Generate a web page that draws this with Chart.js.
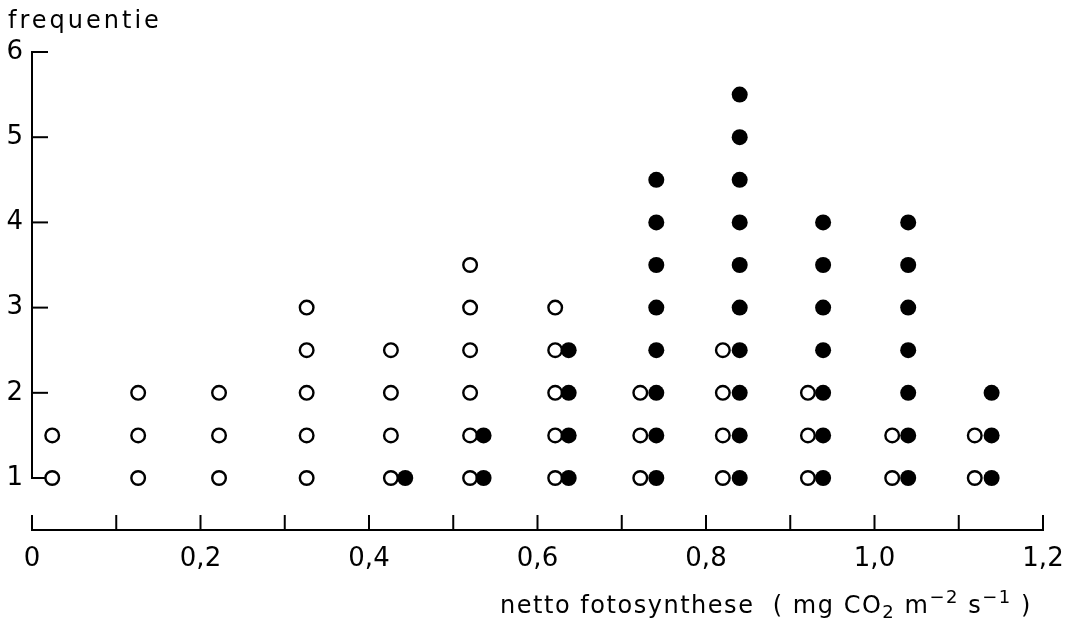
<!DOCTYPE html>
<html>
<head>
<meta charset="utf-8">
<script src="https://cdn.jsdelivr.net/npm/chart.js@4/dist/chart.umd.min.js"></script>
<style>
  body { margin: 0; background: #fff; }
  canvas { display: block; }
</style>
</head>
<body>
<canvas id="chart" width="1067" height="620"></canvas>
<script>
'use strict';

// open circles: one column per class, dots stacked per half unit
const openCols = [0.024, 0.126, 0.222, 0.326, 0.426, 0.52, 0.621, 0.722, 0.82, 0.921, 1.021, 1.119];
const openStacks = [
  [1, 1.5],
  [1, 1.5, 2],
  [1, 1.5, 2],
  [1, 1.5, 2, 2.5, 3],
  [1, 1.5, 2, 2.5],
  [1, 1.5, 2, 2.5, 3, 3.5],
  [1, 1.5, 2, 2.5, 3],
  [1, 1.5, 2],
  [1, 1.5, 2, 2.5],
  [1, 1.5, 2],
  [1, 1.5],
  [1, 1.5],
];

// filled circles
const filledCols = [0.443, 0.536, 0.637, 0.741, 0.84, 0.939, 1.04, 1.139];
const filledStacks = [
  [1],
  [1, 1.5],
  [1, 1.5, 2, 2.5],
  [1, 1.5, 2, 2.5, 3, 3.5, 4, 4.5],
  [1, 1.5, 2, 2.5, 3, 3.5, 4, 4.5, 5, 5.5],
  [1, 1.5, 2, 2.5, 3, 3.5, 4],
  [1, 1.5, 2, 2.5, 3, 3.5, 4],
  [1, 1.5, 2],
];

const xTickValues = [0, 0.2, 0.4, 0.6, 0.8, 1.0, 1.2];
const xTickLabels = ['0', '0,2', '0,4', '0,6', '0,8', '1,0', '1,2'];
const xTickMarks = [0, 0.1, 0.2, 0.3, 0.4, 0.5, 0.6, 0.7, 0.8, 0.9, 1.0, 1.1, 1.2];
const yTickValues = [1, 2, 3, 4, 5, 6];
const yTickLabels = ['1', '2', '3', '4', '5', '6'];

const yTitle = 'frequentie';
// x title pieces: [text, kind] where kind is '', 'sub' or 'sup'
const xTitleParts = [
  ['netto fotosynthese  ( mg CO', ''],
  ['2', 'sub'],
  [' m', ''],
  ['\u22122', 'sup'],
  [' s', ''],
  ['\u22121', 'sup'],
  [' )', ''],
];

const FONT = "'DejaVu Sans', sans-serif";

function toPoints(cols, stacks) {
  const pts = [];
  cols.forEach((x, i) => {
    stacks[i].forEach((y) => pts.push({ x: x, y: y }));
  });
  return pts;
}

function setPartFont(ctx, kind) {
  ctx.font = (kind ? '18px ' : '24px ') + FONT;
}

const axesPlugin = {
  id: 'axesPlugin',
  beforeDatasetsDraw(chart) {
    const ctx = chart.ctx;
    const x = chart.scales.x;
    const y = chart.scales.y;
    const x0 = x.getPixelForValue(0);
    const yBase = chart.chartArea.bottom;

    ctx.save();
    ctx.strokeStyle = '#000';
    ctx.lineWidth = 2;
    ctx.lineCap = 'butt';

    // y axis, from 1 to 6 with ticks to the right
    ctx.beginPath();
    ctx.moveTo(x0, y.getPixelForValue(yTickValues[0]) + 1);
    ctx.lineTo(x0, y.getPixelForValue(yTickValues[yTickValues.length - 1]) - 1);
    ctx.stroke();
    yTickValues.forEach((v) => {
      const py = y.getPixelForValue(v);
      ctx.beginPath();
      ctx.moveTo(x0 - 1, py);
      ctx.lineTo(x0 + 16, py);
      ctx.stroke();
    });

    // x axis, detached, ticks pointing up
    ctx.beginPath();
    ctx.moveTo(x.getPixelForValue(0) - 1, yBase);
    ctx.lineTo(x.getPixelForValue(1.2) + 1, yBase);
    ctx.stroke();
    xTickMarks.forEach((v) => {
      const px = x.getPixelForValue(v);
      ctx.beginPath();
      ctx.moveTo(px, yBase + 1);
      ctx.lineTo(px, yBase - 15);
      ctx.stroke();
    });

    // titles
    ctx.fillStyle = '#000';
    ctx.textBaseline = 'alphabetic';
    ctx.textAlign = 'left';
    ctx.font = '24px ' + FONT;
    ctx.letterSpacing = '3px';
    ctx.fillText(yTitle, 8, 28);

    // spread the x title between 500 and 1032 px
    ctx.letterSpacing = '0px';
    let w0 = 0;
    let n = 0;
    xTitleParts.forEach(([t, kind]) => {
      setPartFont(ctx, kind);
      w0 += ctx.measureText(t).width;
      n += t.length;
    });
    const ls = Math.max((1032 - 500 - w0) / n, 0);
    ctx.letterSpacing = ls.toFixed(2) + 'px';

    let cx = 500;
    const base = 613;
    xTitleParts.forEach(([t, kind]) => {
      setPartFont(ctx, kind);
      const dy = kind === 'sub' ? 5 : kind === 'sup' ? -10 : 0;
      ctx.fillText(t, cx, base + dy);
      cx += ctx.measureText(t).width;
    });
    ctx.restore();
  },
};

const chartData = {
  datasets: [
    {
      label: 'gevuld',
      data: toPoints(filledCols, filledStacks),
      pointRadius: 8,
      pointHoverRadius: 8,
      pointBorderWidth: 0,
      backgroundColor: '#000',
      borderColor: '#000',
    },
    {
      label: 'open',
      data: toPoints(openCols, openStacks),
      pointRadius: 6.8,
      pointHoverRadius: 6.8,
      pointBorderWidth: 2.4,
      backgroundColor: '#fff',
      borderColor: '#000',
    },
  ],
};

const options = {
  responsive: false,
  animation: false,
  layout: {
    padding: { top: 52, right: 24, bottom: 0, left: 0 },
  },
  scales: {
    x: {
      type: 'linear',
      min: 0,
      max: 1.2,
      afterBuildTicks: (scale) => {
        scale.ticks = xTickValues.map((v) => ({ value: v }));
      },
      afterFit: (scale) => {
        scale.height = 90;
        scale.paddingLeft = 0;
        scale.paddingRight = 0;
      },
      grid: { display: false, drawTicks: false },
      border: { display: false },
      ticks: {
        autoSkip: false,
        maxRotation: 0,
        padding: 14,
        color: '#000',
        font: { family: FONT, size: 26 },
        callback: function (value, index) {
          return xTickLabels[index];
        },
      },
    },
    y: {
      type: 'linear',
      min: 0.39,
      max: 6,
      afterBuildTicks: (scale) => {
        scale.ticks = yTickValues.map((v) => ({ value: v }));
      },
      afterFit: (scale) => {
        scale.width = 32;
        scale.paddingTop = 0;
        scale.paddingBottom = 0;
      },
      grid: { display: false, drawTicks: false },
      border: { display: false },
      ticks: {
        padding: 9,
        color: '#000',
        font: { family: FONT, size: 26 },
        callback: function (value, index) {
          return yTickLabels[index];
        },
      },
    },
  },
  plugins: {
    legend: { display: false },
    tooltip: { enabled: false },
  },
};

const ctx = document.getElementById('chart');
new Chart(ctx, {
  type: 'scatter',
  data: chartData,
  options: options,
  plugins: [axesPlugin],
});
</script>
</body>
</html>
